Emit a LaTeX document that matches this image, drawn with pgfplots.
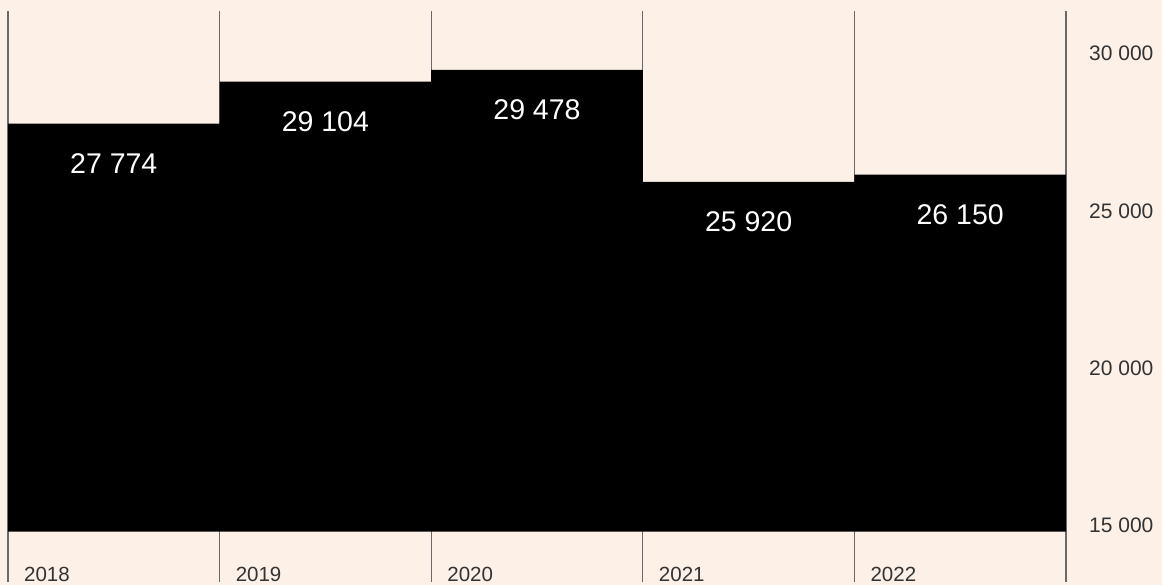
\documentclass[border=0pt]{standalone}
\usepackage{fontspec}
\setmainfont{Liberation Sans}
\usepackage{pgfplots}
\pgfplotsset{compat=1.18}
\definecolor{bgc}{RGB}{253,240,230}
\definecolor{gridc}{RGB}{105,105,105}
\definecolor{tickc}{RGB}{51,51,51}
\begin{document}
\begin{tikzpicture}
\useasboundingbox (0,0) rectangle (1162pt,585pt);
\fill[bgc] (0,0) rectangle (1162pt,585pt);
\begin{axis}[
  at={(8pt,3.3pt)}, anchor=south west,
  scale only axis, width=1058pt, height=570.7pt,
  xmin=0, xmax=5, ymin=13214, ymax=31351,
  axis line style={draw=none},
  xtick={0,1,2,3,4,5},
  xticklabels={2018,2019,2020,2021,2022,{}},
  xmajorgrids,
  grid style={gridc, line width=1.3pt},
  major tick length=0pt,
  tick style={draw=none},
  xticklabel style={anchor=base west, inner sep=0pt, xshift=16pt, text=tickc, font=\fontsize{20.5}{22}\selectfont},
  ytick={15000,20000,25000,30000},
  yticklabel pos=right,
  yticklabel style={anchor=west, inner sep=0pt, xshift=23pt, text=tickc, font=\fontsize{21}{23}\selectfont},
  scaled y ticks=false,
  /pgf/number format/assume math mode=true,
  /pgf/number format/1000 sep={\ },
  clip=false,
]
\addplot[fill=black, draw=none] coordinates {
  (0,14803) (0,27774) (1,27774) (1,29104) (2,29104) (2,29478)
  (3,29478) (3,25920) (4,25920) (4,26150) (5,26150) (5,14803)
};
\addplot[draw=none, mark=none, nodes near coords, point meta=explicit symbolic,
  every node near coord/.append style={anchor=center, yshift=-40pt, text=white, font=\fontsize{28.5}{30}\selectfont}]
  coordinates {
  (0.5,27774) [27 774]
  (1.5,29104) [29 104]
  (2.5,29478) [29 478]
  (3.5,25920) [25 920]
  (4.5,26150) [26 150]
};
\end{axis}
\end{tikzpicture}
\end{document}
